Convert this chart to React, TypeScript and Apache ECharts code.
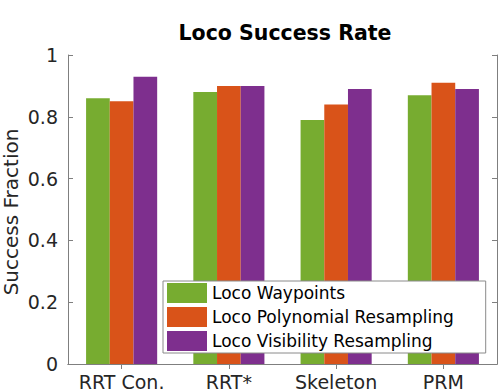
import React, { useEffect, useRef } from "react";
import * as echarts from "echarts";

const categories = ["RRT Con.", "RRT*", "Skeleton", "PRM"];
const seriesNames = [
  "Loco Waypoints",
  "Loco Polynomial Resampling",
  "Loco Visibility Resampling",
];
const waypoints = [0.86, 0.88, 0.79, 0.87];
const polynomial = [0.85, 0.9, 0.84, 0.91];
const visibility = [0.93, 0.9, 0.89, 0.89];
const colors = ["#77AC30", "#D95319", "#7E2F8E"];
const yTicks = [0, 0.2, 0.4, 0.6, 0.8, 1];

const FONT = "DejaVu Sans";

export default function App() {
  const ref = useRef<HTMLDivElement>(null);
  useEffect(() => {
    if (!ref.current) return;
    const chart = echarts.init(ref.current, null, { renderer: "svg" });
    const values = [waypoints, polynomial, visibility];
    const axisLine = { show: true, lineStyle: { color: "#7f7f7f", width: 1 } };
    const tick = { show: true, inside: true, length: 5, lineStyle: { color: "#7f7f7f" } };
    chart.setOption({
      animation: false,
      backgroundColor: "#ffffff",
      textStyle: { fontFamily: FONT },
      grid: {
        left: 68,
        top: 55,
        right: 1,
        bottom: 28,
        containLabel: false,
        outerBoundsMode: "none",
      },
      graphic: [
        {
          type: "text",
          x: 285,
          y: 33,
          style: {
            text: "Loco Success Rate",
            fontFamily: FONT,
            fontSize: 20.5,
            fontWeight: "bold",
            fill: "#000000",
            textAlign: "center",
            textVerticalAlign: "middle",
          },
        },
        {
          type: "text",
          x: 11,
          y: 212,
          rotation: Math.PI / 2,
          style: {
            text: "Success Fraction",
            fontFamily: FONT,
            fontSize: 20,
            fill: "#262626",
            textAlign: "center",
            textVerticalAlign: "middle",
          },
        },
      ],
      legend: {
        orient: "vertical",
        left: 163,
        top: 281,
        itemWidth: 40,
        itemHeight: 20,
        itemGap: 4,
        padding: [2, 32, 2, 4],
        borderColor: "#8a8a8a",
        borderWidth: 1,
        backgroundColor: "#ffffff",
        icon: "rect",
        textStyle: { fontFamily: FONT, fontSize: 17, color: "#000000", lineHeight: 20 },
        data: seriesNames,
      },
      xAxis: [
        {
          type: "category",
          data: categories,
          position: "bottom",
          axisLine,
          axisTick: { ...tick, alignWithLabel: true, interval: 0 },
          axisLabel: { fontFamily: FONT, fontSize: 19, color: "#262626", margin: 8, interval: 0 },
          splitLine: { show: false },
        },
        {
          type: "category",
          data: categories,
          position: "top",
          axisLine,
          axisTick: { ...tick, alignWithLabel: true, interval: 0 },
          axisLabel: { show: false },
          splitLine: { show: false },
        },
      ],
      yAxis: [
        {
          type: "value",
          min: 0,
          max: 1,
          interval: 0.2,
          position: "left",
          axisLine,
          axisTick: tick,
          axisLabel: {
            fontFamily: FONT,
            fontSize: 19,
            color: "#262626",
            margin: 10,
            formatter: (v: number) => (yTicks.includes(+v.toFixed(1)) ? String(+v.toFixed(1)) : ""),
          },
          splitLine: { show: false },
        },
        {
          type: "value",
          min: 0,
          max: 1,
          interval: 0.2,
          position: "right",
          axisLine,
          axisTick: tick,
          axisLabel: { show: false },
          splitLine: { show: false },
        },
      ],
      series: seriesNames.map((name, i) => ({
        name,
        type: "bar",
        data: values[i],
        barWidth: 23.7,
        barGap: "0%",
        itemStyle: { color: colors[i] },
        xAxisIndex: 0,
        yAxisIndex: 0,
      })),
    });
    return () => chart.dispose();
  }, []);
  return <div ref={ref} style={{ width: 498, height: 392, position: "fixed", left: 0, top: 0 }} />;
}
